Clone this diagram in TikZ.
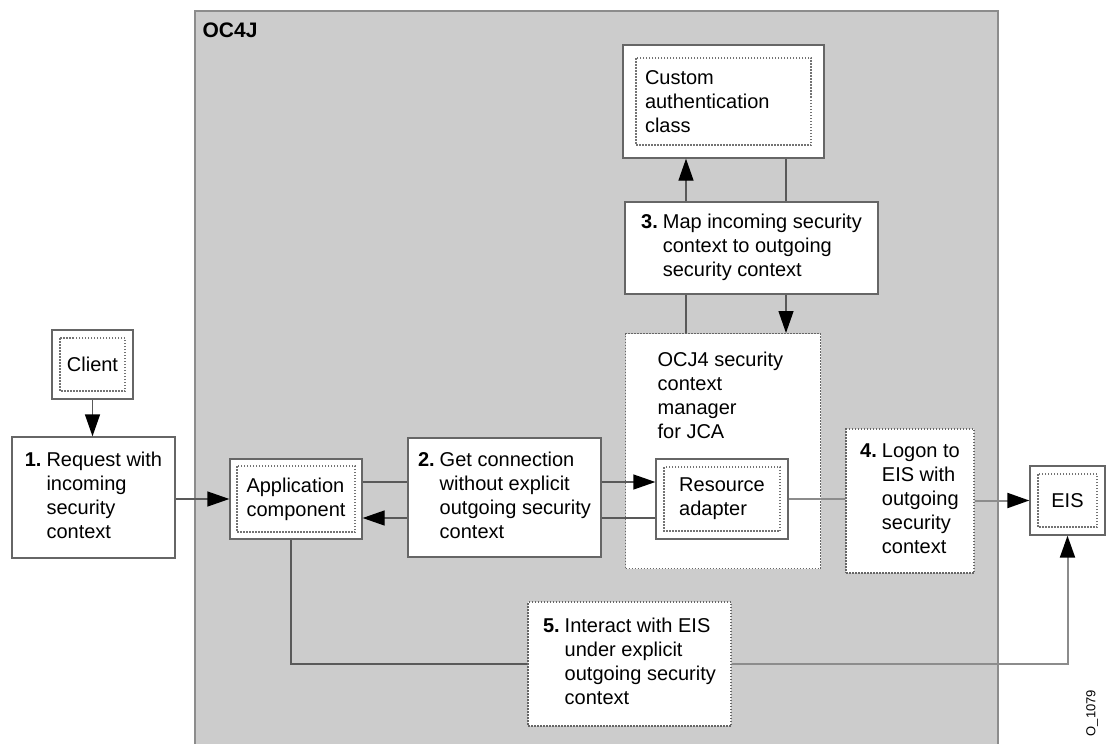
\documentclass[tikz,border=0pt]{standalone}
\usepackage{fontspec}
\setmainfont{Liberation Sans}
\usepackage{tikz}
\usetikzlibrary{positioning, arrows.meta, calc}
\tikzset{container/.style={
    rectangle,
    draw=black!45,
    line width=2pt,
    fill=black!20
}}
\tikzset{box/.style={
    rectangle,
    draw=black!60,
    line width=1.3pt,
    fill=white,
    inner sep=0pt,
    align=left
}}
\tikzset{dotbox/.style={
    box,
    line width=1.2pt,
    dash pattern=on 1.5pt off 1.5pt
}}
\tikzset{dblbox/.style={
    box,
    path picture={\draw [black!55, line width=1.2pt, dash pattern=on 1.5pt off 1.5pt]
        ([shift={(#1,-#1)}]path picture bounding box.north west) rectangle
        ([shift={(-#1,#1)}]path picture bounding box.south east);}
}, dblbox/.default=8pt}
\tikzset{faint/.style={draw=black!45, line width=2pt}}
\newcommand{\steplabel}[2]{\textbf{#1}\hspace{0.25em}\begin{tabular}[t]{@{}l@{}}#2\end{tabular}}

\begin{document}
\begin{tikzpicture}[
    x=1pt, y=-1pt,
    >={Triangle[length=22pt, width=15pt, color=black]},
    line width=1.3pt, black!65,
    text=black,
    font=\fontsize{20}{24}\selectfont
]
    \useasboundingbox (0,0) rectangle (1109,744);
    \clip (0,0) rectangle (1109,744);
    % Container
    \node (oc4j) [container, minimum width=803, minimum height=760, anchor=north west,
        label={[anchor=north west, inner sep=0pt, xshift=8pt, yshift=-12pt,
        font=\fontsize{21}{24}\selectfont\bfseries]north west:OC4J}] at (194,10) {};
    % Outside the container
    \node (client) [dblbox=8pt, minimum width=81, minimum height=69] at (92.5,364.5) {Client};
    \node (req) [box, minimum width=163, minimum height=121] at (93.5,497.5)
        {\steplabel{1.}{Request with\\incoming\\security\\context}};
    \node (eis) [dblbox=8pt, minimum width=75, minimum height=69] at (1067.5,500.5) {EIS};
    % Inside the container
    \node (custom) [dblbox=13pt, text width=157pt, inner xsep=22pt, minimum height=113]
        at (723.5,101.5) {Custom\\authentication\\class};
    \node (map) [box, minimum width=253, minimum height=92] at (751.5,248)
        {\steplabel{3.}{Map incoming security\\context to outgoing\\security context}};
    \node (mgr) [dotbox, minimum width=195, minimum height=235, anchor=north west,
        label={[anchor=north west, align=left, inner sep=0pt, xshift=32pt, yshift=-18pt]
        north west:{OCJ4 security\\context\\manager\\for JCA}}] at (625,333) {};
    \node (ra) [dblbox=8pt, minimum width=132, minimum height=80] at (722,499) {Resource\\adapter};
    \node (app) [dblbox=7pt, minimum width=132, minimum height=80] at (296,499) {Application\\component};
    \node (get) [box, minimum width=193, minimum height=119] at (504.5,497.5)
        {\steplabel{2.}{Get connection\\without explicit\\outgoing security\\context}};
    \node (logon) [dotbox, minimum width=128, minimum height=144] at (910,501)
        {\steplabel{4.}{Logon to\\EIS with\\outgoing\\security\\context}};
    \node (interact) [dotbox, minimum width=203, minimum height=124] at (629.5,664)
        {\steplabel{5.}{Interact with EIS\\under explicit\\outgoing security\\context}};
    \node (stamp) [rotate=90, font=\fontsize{13}{15}\selectfont] at (1092,713) {O\_1079};

    % Connectors
    \draw [->] (client.south) -- (client.south |- req.north);
    \draw [->] (req.east |- app) -- (app.west);
    \draw (app.east |- 0,482) -- (get.west |- 0,482);
    \draw [->] (get.east |- 0,482) -- (ra.west |- 0,482);
    \draw (ra.west |- 0,518) -- (get.east |- 0,518);
    \draw [->] (get.west |- 0,518) -- (app.east |- 0,518);
    \draw [->] (map.north -| 686,0) -- (custom.south -| 686,0);
    \draw (custom.south -| 786,0) -- (map.north -| 786,0);
    \draw (map.south -| 686,0) -- (mgr.north -| 686,0);
    \draw [->] (map.south -| 786,0) -- (mgr.north -| 786,0);
    \draw [faint] (ra.east) -- (logon.west |- ra.east);
    \draw [faint, ->] (logon.east |- eis) -- (eis.west);
    \draw (app.south -| 291,0) |- (interact.west);
    \draw [faint, ->] (interact.east) -| (eis.south);
\end{tikzpicture}
\end{document}
